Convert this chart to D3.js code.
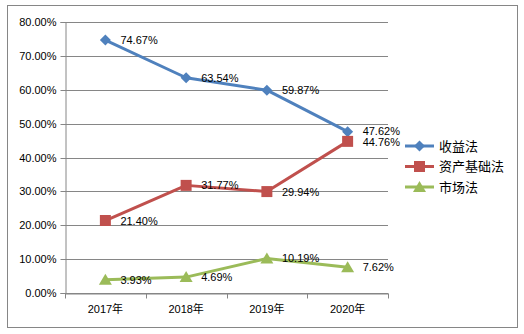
<!DOCTYPE html>
<html><head><meta charset="utf-8">
<script src="https://cdn.jsdelivr.net/npm/d3@7"></script>
<style>body{margin:0;background:#fff}svg{display:block}</style>
</head><body><svg id="c" width="524" height="334"></svg>
<script>
const categories = ["2017年","2018年","2019年","2020年"];
const seriesNames = ["收益法","资产基础法","市场法"];
const incomeValues = [74.67, 63.54, 59.87, 47.62];
const assetValues = [21.40, 31.77, 29.94, 44.76];
const marketValues = [3.93, 4.69, 10.19, 7.62];
const yTicks = [0,10,20,30,40,50,60,70,80];
const colors = ["#4F81BD","#C0504D","#9BBB59"];
const markers = ["diamond","square","triangle"];
const allSeries = [incomeValues, assetValues, marketValues];

const svg = d3.select("#c");
const font = "'Liberation Sans', Arial, 'Noto Sans CJK SC', sans-serif";
svg.append("rect").attr("x",7.5).attr("y",5.5).attr("width",510).attr("height",322)
  .attr("fill","#fff").attr("stroke","#868686").attr("stroke-width",1);

const x = d3.scaleBand().domain(categories).range([65,388]);
const y = d3.scaleLinear().domain([0,80]).range([293,22]);

// grid
svg.append("g").selectAll("line").data(yTicks).join("line")
  .attr("x1",65).attr("x2",388).attr("y1",d=>Math.round(y(d))+0.5).attr("y2",d=>Math.round(y(d))+0.5)
  .attr("stroke","#868686").attr("stroke-width",1);

// y axis
const ya = svg.append("g").attr("transform","translate(65.5,0)")
  .call(d3.axisLeft(y).tickValues(yTicks).tickFormat(d=>d.toFixed(2)+"%").tickSize(5).tickPadding(4));
ya.select(".domain").attr("stroke","#868686");
ya.selectAll(".tick line").attr("stroke","#868686");
ya.selectAll(".tick").attr("transform",d=>`translate(0,${Math.round(y(d))+0.5})`);
ya.selectAll("text").attr("font-family",font).attr("font-size",11).attr("fill","#000");

// x axis
const xa = svg.append("g").attr("transform","translate(0,293.5)")
  .call(d3.axisBottom(x).tickSize(0).tickPadding(12));
xa.select(".domain").attr("stroke","#868686");
xa.selectAll("text").attr("font-family",font).attr("font-size",11).attr("fill","#000");
const edges = categories.map(c=>x(c)).concat([x.range()[1]]);
xa.selectAll(".edge").data(edges).join("line").attr("class","edge")
  .attr("x1",d=>Math.round(d)+0.5).attr("x2",d=>Math.round(d)+0.5).attr("y1",0).attr("y2",5)
  .attr("stroke","#868686");

const cx = c => x(c) + x.bandwidth()/2;
function markerPath(type){
  if(type==="diamond") return "M0,-5.5L5.5,0L0,5.5L-5.5,0Z";
  if(type==="square") return "M-5.5,-5.5H5.5V5.5H-5.5Z";
  return "M0,-6L6.5,5H-6.5Z";
}
const line = d3.line().x((d,i)=>cx(categories[i])).y(d=>y(d));
allSeries.forEach((vals,si)=>{
  const g = svg.append("g");
  g.append("path").datum(vals).attr("d",line).attr("fill","none")
    .attr("stroke",colors[si]).attr("stroke-width",3).attr("stroke-linejoin","round");
  g.selectAll("path.m").data(vals).join("path").attr("class","m")
    .attr("transform",(d,i)=>`translate(${cx(categories[i])},${y(d)})`)
    .attr("d",markerPath(markers[si])).attr("fill",colors[si]);
  g.selectAll("text").data(vals).join("text")
    .attr("x",(d,i)=>cx(categories[i])+15)
    .attr("y",(d,i)=>y(d)+4 + (si===0&&i===3 ? -0.5 : 0) + (si===1&&i===3 ? 0.5 : 0))
    .attr("font-family",font).attr("font-size",11).attr("fill","#000")
    .text(d=>d.toFixed(2)+"%");
});

// legend
const lg = svg.append("g");
seriesNames.forEach((n,i)=>{
  const yy = 146 + i*20.5;
  lg.append("line").attr("x1",405).attr("x2",434).attr("y1",yy).attr("y2",yy)
    .attr("stroke",colors[i]).attr("stroke-width",3);
  lg.append("path").attr("transform",`translate(419.5,${yy})`).attr("d",markerPath(markers[i])).attr("fill",colors[i]);
  lg.append("text").attr("x",439).attr("y",yy+4.5).attr("font-family","'Noto Sans CJK SC', sans-serif")
    .attr("font-size",13).attr("fill","#000").text(n);
});
</script></body></html>
